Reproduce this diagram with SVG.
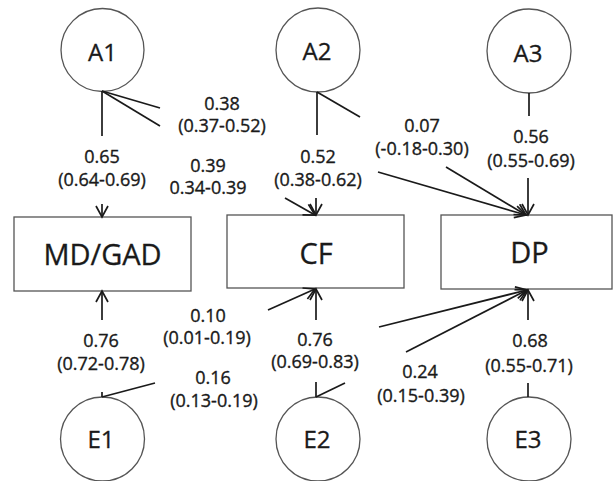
<svg xmlns="http://www.w3.org/2000/svg" width="613" height="481" viewBox="0 0 613 481">
<style>
.node{fill:#fff;stroke:#555;stroke-width:1.3}
.big{font-family:"Open Sans","Liberation Sans",sans-serif;font-size:24px;fill:#1a1a1a;stroke:#1a1a1a;stroke-width:0.3;text-anchor:middle}
.box{font-family:"Open Sans","Liberation Sans",sans-serif;font-size:29px;fill:#1a1a1a;stroke:#1a1a1a;stroke-width:0.3;text-anchor:middle}
.lbl{font-family:"Open Sans","Liberation Sans",sans-serif;font-size:18px;fill:#1a1a1a;stroke:#1a1a1a;stroke-width:0.35;text-anchor:middle}
.e{stroke:#1a1a1a;stroke-width:1.7;fill:none}
.a{marker-end:url(#arr)}
</style>
<defs>
<marker id="arr" markerUnits="userSpaceOnUse" markerWidth="14" markerHeight="14" viewBox="0 0 14 14" refX="12" refY="7" orient="auto">
<path d="M1,1 L12,7 L1,13" fill="none" stroke="#1a1a1a" stroke-width="1.7"/>
</marker>
</defs>
<rect width="613" height="481" fill="#fff"/>
<g id="A1"><circle class="node" cx="102.5" cy="50" r="41.5"/><text class="big" x="102.5" y="61">A1</text></g>
<g id="A2"><circle class="node" cx="318" cy="50" r="42"/><text class="big" x="317" y="60">A2</text></g>
<g id="A3"><circle class="node" cx="529" cy="51" r="42"/><text class="big" x="528" y="62">A3</text></g>
<g id="E1"><circle class="node" cx="102.5" cy="439" r="42"/><text class="big" x="101" y="448">E1</text></g>
<g id="E2"><circle class="node" cx="318" cy="439" r="42"/><text class="big" x="317" y="448">E2</text></g>
<g id="E3"><circle class="node" cx="529" cy="439" r="42"/><text class="big" x="528" y="448">E3</text></g>
<g id="MDGAD"><rect class="node" x="14" y="217" width="177" height="74"/><text class="box" x="102.5" y="265">MD/GAD</text></g>
<g id="CF"><rect class="node" x="227" y="215" width="177" height="73"/><text class="box" x="316" y="264">CF</text></g>
<g id="DP"><rect class="node" x="441" y="215" width="171" height="74"/><text class="box" x="529.5" y="263">DP</text></g>
<g id="connectors">
<line class="e" x1="102" y1="91" x2="102" y2="136"/>
<line class="e" x1="102" y1="91" x2="160" y2="108"/>
<line class="e" x1="102" y1="91" x2="160" y2="126"/>
<line class="e a" x1="102" y1="204" x2="102" y2="217"/>
<line class="e" x1="317" y1="92" x2="317" y2="135"/>
<line class="e" x1="317" y1="92" x2="360" y2="117"/>
<line class="e a" x1="285" y1="198" x2="315" y2="215"/>
<line class="e a" x1="316" y1="198" x2="316" y2="215"/>
<line class="e" x1="529" y1="93" x2="529" y2="116"/>
<line class="e a" x1="378" y1="172" x2="526" y2="215"/>
<line class="e a" x1="446" y1="167" x2="526" y2="215"/>
<line class="e a" x1="528" y1="178" x2="528" y2="215"/>
<line class="e a" x1="102" y1="320" x2="102" y2="291"/>
<line class="e a" x1="268" y1="310" x2="315" y2="289"/>
<line class="e a" x1="316" y1="320" x2="316" y2="289"/>
<line class="e a" x1="379" y1="327" x2="527" y2="290"/>
<line class="e a" x1="406" y1="352" x2="527" y2="290"/>
<line class="e a" x1="528" y1="320" x2="528" y2="290"/>
<line class="e" x1="102" y1="392" x2="102" y2="397"/>
<line class="e" x1="102" y1="397" x2="155" y2="383"/>
<line class="e" x1="316" y1="382" x2="316" y2="397"/>
<line class="e" x1="316" y1="397" x2="345" y2="383"/>
<line class="e" x1="528" y1="383" x2="528" y2="397"/>
</g>
<g id="labels">
<text class="lbl" x="102" y="163">0.65</text><text class="lbl" x="102" y="186">(0.64-0.69)</text>
<text class="lbl" x="222" y="110">0.38</text><text class="lbl" x="222" y="132">(0.37-0.52)</text>
<text class="lbl" x="208" y="172">0.39</text><text class="lbl" x="208" y="194">0.34-0.39</text>
<text class="lbl" x="318" y="163">0.52</text><text class="lbl" x="318" y="186">(0.38-0.62)</text>
<text class="lbl" x="422" y="132">0.07</text><text class="lbl" x="422" y="155">(-0.18-0.30)</text>
<text class="lbl" x="531" y="143">0.56</text><text class="lbl" x="531" y="167">(0.55-0.69)</text>
<text class="lbl" x="101" y="347">0.76</text><text class="lbl" x="101" y="370">(0.72-0.78)</text>
<text class="lbl" x="208" y="322">0.10</text><text class="lbl" x="207" y="344">(0.01-0.19)</text>
<text class="lbl" x="213" y="384">0.16</text><text class="lbl" x="214" y="407">(0.13-0.19)</text>
<text class="lbl" x="315" y="346">0.76</text><text class="lbl" x="315" y="368">(0.69-0.83)</text>
<text class="lbl" x="420" y="378">0.24</text><text class="lbl" x="421" y="402">(0.15-0.39)</text>
<text class="lbl" x="530" y="347">0.68</text><text class="lbl" x="529" y="372">(0.55-0.71)</text>
</g>
</svg>
